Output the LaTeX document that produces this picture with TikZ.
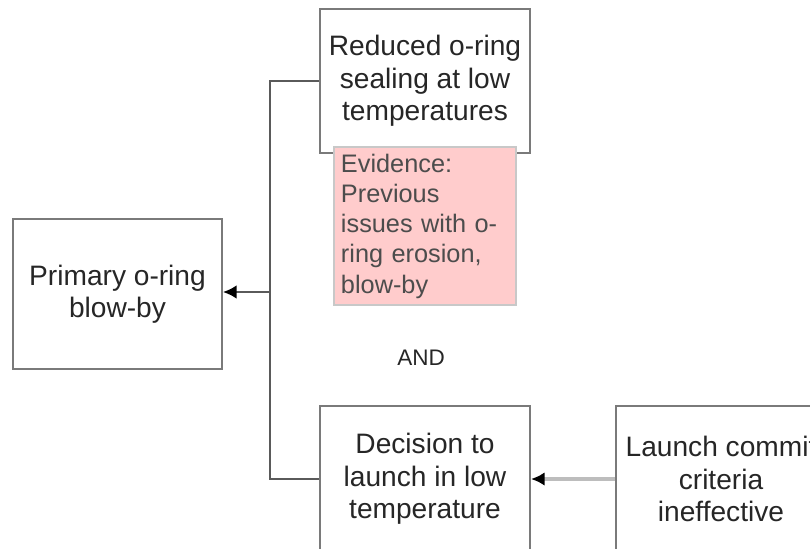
\documentclass[tikz,border=0pt]{standalone}
\usepackage{fontspec}
\setmainfont{Liberation Sans}
\usetikzlibrary{arrows.meta,positioning}
\definecolor{boxline}{HTML}{7A7A7A}
\definecolor{wireline}{HTML}{5A5A5A}
\definecolor{paleline}{HTML}{BDBDBD}
\definecolor{evfill}{HTML}{FFCCCC}
\definecolor{evline}{HTML}{C8C8C8}
\begin{document}
\begin{tikzpicture}[x=0.025cm,y=-0.025cm,>={Latex[black,length=3.4mm,width=3.4mm]}]

	\tikzstyle{cause}=[rectangle,draw=boxline,line width=1.4pt,fill=white,minimum width=5.25cm,minimum height=3.65cm,inner sep=1pt,align=center,anchor=north west,font=\fontsize{20}{23}\selectfont,text=black!85]
	\tikzstyle{evidence}=[rectangle,draw=evline,line width=1.4pt,fill=evfill,minimum width=4.55cm,minimum height=3.925cm,text width=4.2cm,inner sep=0.17cm,align=left,anchor=north west,font=\fontsize{18}{21.5}\selectfont,text=black!70]
	\tikzstyle{wire}=[draw=wireline,line width=1.4pt]
	\tikzstyle{paleWire}=[draw=paleline,line width=2.6pt]

	\useasboundingbox (0,0) rectangle (810,548);
	\clip (0,0) rectangle (810,548);

	\node [cause,minimum width=5.225cm,minimum height=3.75cm] (primary) at (12,218) {Primary o-ring\\blow-by};
	\node [cause,minimum height=3.6cm] (reduced) at (319,8) {Reduced o-ring\\sealing at low\\temperatures};
	\node [evidence] (evid) at (333,146) {Evidence:\\Previous\\issues with o-\\ring erosion,\\blow-by};
	\node [font=\fontsize{16}{19}\selectfont,text=black!85] (and) at (421,358) {AND};
	\node [cause] (decision) at (319,405) {Decision to\\launch in low\\temperature};
	\node [cause] (launch) at (615,405) {Launch commit\\criteria\\ineffective};

	\coordinate (junction) at (270,292);

	\draw [wire] (reduced.west) -| (junction) |- (decision.west);
	\draw [wire,->] (junction) -- (junction -| primary.east);
	\draw [paleWire,->] (launch.west) -- (decision.east);

\end{tikzpicture}
\end{document}
